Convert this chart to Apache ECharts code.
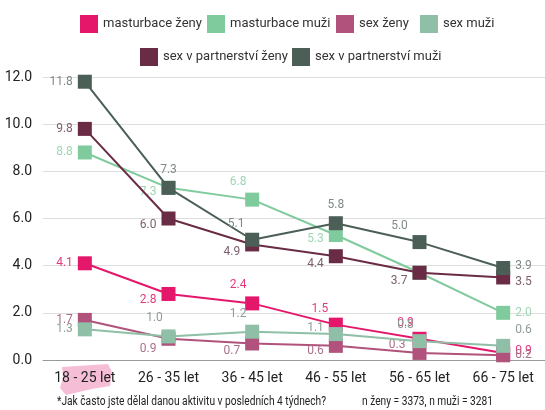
<!DOCTYPE html>
<html><head><meta charset="utf-8">
<script src="https://cdn.jsdelivr.net/npm/echarts@6/dist/echarts.min.js"></script>
<style>html,body{margin:0;padding:0;background:#fff}#c{width:545px;height:410px}</style>
</head><body><div id="c"></div>
<script>
const categories = ['18 - 25 let','26 - 35 let','36 - 45 let','46 - 55 let','56 - 65 let','66 - 75 let'];
const yTicks = [0, 2, 4, 6, 8, 10, 12];
const seriesNames = ['masturbace ženy','masturbace muži','sex ženy','sex muži','sex v partnerství ženy','sex v partnerství muži'];
const masturbaceZeny = [4.1, 2.8, 2.4, 1.5, 0.9, 0.3];
const masturbaceZenyLabels = ['4.1','2.8','2.4','1.5','0.9','0.9'];
const masturbaceMuzi = [8.8, 7.3, 6.8, 5.3, 3.7, 2.0];
const sexZeny = [1.7, 0.9, 0.7, 0.6, 0.3, 0.2];
const sexMuzi = [1.3, 1.0, 1.2, 1.1, 0.8, 0.6];
const partnerZeny = [9.8, 6.0, 4.9, 4.4, 3.7, 3.5];
const partnerMuzi = [11.8, 7.3, 5.1, 5.8, 5.0, 3.9];
const footnote = '*Jak často jste dělal danou aktivitu v posledních 4 týdnech?';
const sampleNote = 'n ženy = 3373, n muži = 3281';

const FONT = 'Roboto,"Liberation Sans",sans-serif';
const colors = ['#e5176b','#80cb9d','#b0527b','#8fbfa6','#6a2b45','#4b5f56'];
const labelColors = ['#e5397f','#9dd6b2','#a8708a','#8e9c96','#7e6070','#7f8a85'];

// label placement per point: [position, dx, dy] (style only)
const place = [
  [['left',0,0],['left',0,6],['top',-14,0],['top',-16,2],['top',-14,2],['right',0,-2]],
  [['left',0,0],['left',0,4],['top',-14,0],['left',0,4],null,['right',0,0]],
  [['left',0,0],['left',0,10],['left',0,8],['left',0,5],['left',-2,-8],['right',0,0]],
  [['left',0,0],['top',-14,0],['top',-14,0],['left',0,-6],['top',-14,2],['right',0,-16]],
  [['left',0,0],['left',0,6],['left',0,8],['left',0,8],['left',0,8],['right',0,5]],
  [['left',0,0],['top',0,0],['top',-16,2],['top',0,0],['top',-20,2],['right',0,-2]]
];
const values = [masturbaceZeny, masturbaceMuzi, sexZeny, sexMuzi, partnerZeny, partnerMuzi];
const labelTexts = [masturbaceZenyLabels, null, null, null, null, null];
const legendPos = [[80,15],[207,15],[336,15],[420,15],[140,48],[292,48]];

const series = values.map((vals, si) => ({
  name: seriesNames[si],
  type: 'line',
  symbol: 'rect',
  symbolSize: 14,
  lineStyle: {width: 2, color: colors[si]},
  itemStyle: {color: colors[si], opacity: 1},
  z: 2 + si,
  data: vals.map((v, i) => {
    const p = place[si][i];
    const txt = labelTexts[si] ? labelTexts[si][i] : v.toFixed(1);
    return {
      value: v,
      label: p ? {
        show: true, position: p[0], offset: [p[1], p[2]], distance: 5,
        formatter: () => txt,
        color: labelColors[si], fontFamily: FONT, fontSize: 12
      } : {show: false}
    };
  })
}));

const chart = echarts.init(document.getElementById('c'), null, {renderer: 'canvas'});
chart.setOption({
  animation: false,
  color: colors,
  grid: {left: 43, right: -10, top: 77, bottom: 50, containLabel: false},
  legend: seriesNames.map((n, i) => ({
    data: [n], left: legendPos[i][0], top: legendPos[i][1], padding: 0,
    icon: 'rect', itemWidth: 18, itemHeight: 18, itemGap: 6,
    textStyle: {fontFamily: FONT, fontSize: 13, color: '#333', padding: [0, 0, 0, 0]}
  })),
  xAxis: {
    type: 'category', data: categories, boundaryGap: true,
    axisLine: {lineStyle: {color: '#9a9a9a', width: 1}},
    axisTick: {show: false},
    axisLabel: {interval: 0, fontFamily: FONT, fontSize: 14, color: '#222', margin: 11}
  },
  yAxis: {
    type: 'value', min: yTicks[0], max: yTicks[yTicks.length - 1], interval: 2,
    axisLine: {show: false}, axisTick: {show: false},
    splitLine: {lineStyle: {color: '#dedede', width: 1}},
    axisLabel: {fontFamily: FONT, fontSize: 14, color: '#222', margin: 11, formatter: v => v.toFixed(1)}
  },
  graphic: [
    {type: 'polygon', z: 0, silent: true,
     shape: {points: [[62,367],[108,364],[112,372],[110,386],[92,389],[66,395],[60,388],[63,378]]},
     style: {fill: '#f5b3cf', opacity: 0.85}},
    {type: 'text', x: 57, y: 396, scaleX: 0.85, style: {text: footnote, font: '12px ' + FONT, fill: '#222'}},
    {type: 'text', x: 362, y: 396, scaleX: 0.85, style: {text: sampleNote, font: '12px ' + FONT, fill: '#222'}}
  ],
  series: series
});
</script></body></html>
